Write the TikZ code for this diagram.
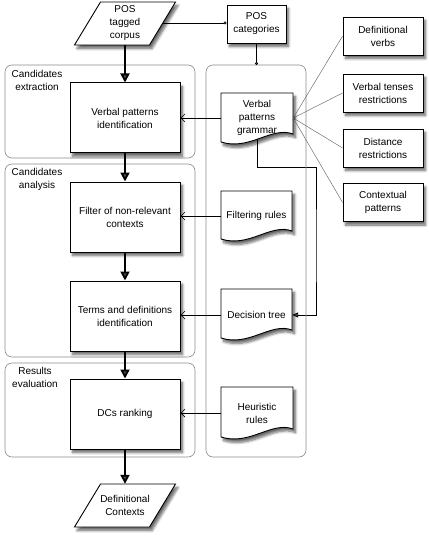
\documentclass[tikz,border=0pt]{standalone}
\usepackage{fontspec}
\setmainfont{Liberation Sans}
\usetikzlibrary{arrows.meta,shadows.blur,calc}
\pgfdeclarelayer{background}
\pgfsetlayers{background,main}
\newcommand\docpath[4]{%
  \path[docstyle] (#1,#2) -- (#3,#2) -- (#3,#4-11)
    .. controls ({#3-0.3*(#3-#1)},{#4-19}) and ({#1+0.4*(#3-#1)},{#4+6}) .. (#1,#4-3) -- cycle;}
\newcommand\parpath[2]{% center x, center y
  \path[docstyle] (#1-24.5,#2-21.5) -- (#1+50.5,#2-21.5) -- (#1+24.5,#2+21.5) -- (#1-50.5,#2+21.5) -- cycle;}
\begin{document}
\begin{tikzpicture}[x=1pt,y=-1pt,
  font=\fontsize{10}{13}\selectfont,
  shadowed/.style={blur shadow={shadow xshift=2.5pt,shadow yshift=-3.5pt,shadow blur steps=6,shadow blur radius=2.5pt,shadow opacity=60}},
  docstyle/.style={draw,line width=0.9pt,fill=white,shadowed},
  mainbox/.style={draw,line width=1pt,fill=white,shadowed,align=center,inner sep=0pt,minimum width=110pt,minimum height=70pt},
  sidebox/.style={draw,line width=0.8pt,fill=white,shadowed,align=center,inner sep=0pt,minimum width=80pt,minimum height=38pt},
  txtnode/.style={align=center,inner sep=0pt},
  group/.style={draw=black!45,line width=0.6pt,rounded corners=7pt},
  flow/.style={line width=1.8pt,-{Triangle[length=9pt,width=9pt]}},
  feed/.style={line width=0.7pt,-{Straight Barb[length=4pt,width=8pt]}},
  dotend/.style={line width=0.5pt,-{Circle[length=3pt]}},
  spoke/.style={line width=0.45pt,draw=black!60,-{Circle[length=2.5pt,fill=black]}},
]
\useasboundingbox (0,0) rectangle (428,548);

% groups
\draw[group] (5,65) rectangle (195,158);
\draw[group] (5,164) rectangle (195,357);
\draw[group] (5,363) rectangle (195,457);
\draw[group] (206,65) rectangle (306,457);

\node[txtnode] (lab1) at (37,80) {Candidates\\extraction};
\node[txtnode] (lab2) at (37,179) {Candidates\\analysis};
\node[txtnode] (lab3) at (35,377) {Results\\evaluation};

% input / output
\parpath{125}{23.5}
\node[txtnode,minimum width=75pt,minimum height=43pt] (corpus) at (125,23.5) {POS\\tagged\\corpus};
\coordinate (corpusR) at (163,23);

\parpath{125}{505.5}
\node[txtnode,minimum width=75pt,minimum height=43pt] (defctx) at (125,505.5) {Definitional\\Contexts};

% categories
\node[sidebox,minimum width=59pt,minimum height=38pt] (cat) at (256.5,24) {POS\\categories};
\coordinate (grptop) at (256.5,65);

% main boxes
\node[mainbox] (vpi) at (125,118) {Verbal patterns\\identification};
\node[mainbox] (filter) at (125,217) {Filter of non-relevant\\contexts};
\node[mainbox] (terms) at (125,316) {Terms and definitions\\identification};
\node[mainbox] (dcs) at (125,414) {DCs ranking};

% documents
\docpath{221}{93}{293}{145}
\node[txtnode,minimum width=72pt,minimum height=36pt] (grammar) at (257,118) {Verbal\\patterns\\grammar};
\docpath{221}{191}{292}{242}
\node[txtnode,minimum width=71pt,minimum height=36pt] (filtr) at (256.5,216) {Filtering rules};
\docpath{221}{289}{292}{341}
\node[txtnode,minimum width=71pt,minimum height=36pt] (dtree) at (256.5,315) {Decision tree};
\docpath{221}{387}{293}{440}
\node[txtnode,minimum width=72pt,minimum height=36pt] (heur) at (257,413) {Heuristic\\rules};

% side boxes
\node[sidebox] (defv) at (383,36) {Definitional\\verbs};
\node[sidebox] (tenses) at (383,93) {Verbal tenses\\restrictions};
\node[sidebox] (dist) at (383,148) {Distance\\restrictions};
\node[sidebox] (ctx) at (383,202.5) {Contextual\\patterns};

% connectors
\begin{pgfonlayer}{background}
\draw[line width=0.7pt,-{Triangle[length=6pt,width=5pt]}] (grammar.south) -- ++(0,31) -| (316,250) |- (dtree.east);
\end{pgfonlayer}

\draw[flow] (corpus.south) -- (vpi.north);
\draw[flow] (vpi.south) -- (filter.north);
\draw[flow] (filter.south) -- (terms.north);
\draw[flow] (terms.south) -- (dcs.north);
\draw[flow] (dcs.south) -- (defctx.north);

\draw[dotend] (corpusR) -- (corpusR -| cat.west);
\draw[dotend] (cat.south) -- (grptop);

\draw[feed] (grammar.west) -- (grammar.west -| vpi.east);
\draw[feed] (filtr.west) -- (filtr.west -| filter.east);
\draw[feed] (dtree.west) -- (dtree.west -| terms.east);
\draw[feed] (heur.west) -- (heur.west -| dcs.east);

\draw[spoke] (defv.west) -- (grammar.east);
\draw[spoke] (tenses.west) -- (grammar.east);
\draw[spoke] (dist.west) -- (grammar.east);
\draw[spoke] (ctx.west) -- (grammar.east);
\end{tikzpicture}
\end{document}
